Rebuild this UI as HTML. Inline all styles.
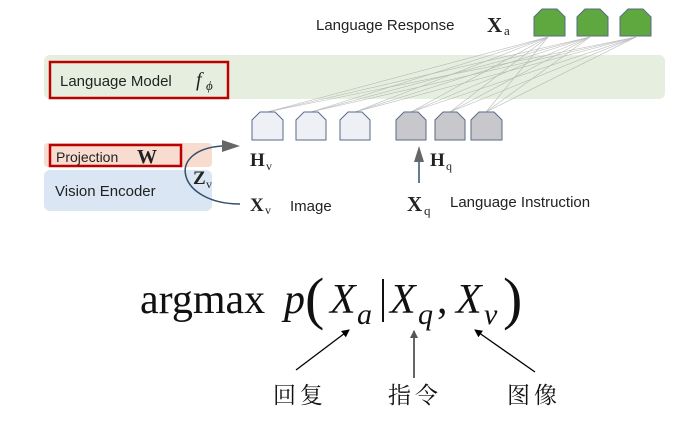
<!DOCTYPE html>
<html><head><meta charset="utf-8"><style>
html,body{margin:0;padding:0;background:#fff;width:678px;height:433px;overflow:hidden}
svg text{font-family:"Liberation Sans","DejaVu Sans",sans-serif}
.s{font-family:"Liberation Serif","DejaVu Serif",serif}
.c{font-family:"Liberation Serif","Noto Serif CJK SC","Noto Sans CJK SC",serif}
</style></head><body>
<svg width="678" height="433" viewBox="0 0 678 433" xmlns="http://www.w3.org/2000/svg">
<defs>
<marker id="ah" markerWidth="8" markerHeight="8" refX="7" refY="4" orient="auto" markerUnits="userSpaceOnUse"><path d="M0,0 L8,4 L0,8 Z" fill="#000"/></marker>
<marker id="ag" markerWidth="8" markerHeight="8" refX="7" refY="4" orient="auto" markerUnits="userSpaceOnUse"><path d="M0,0 L8,4 L0,8 Z" fill="#555"/></marker>
</defs>
<rect x="44" y="55" width="621" height="44" rx="6" fill="#e6efdf"/>
<rect x="50" y="62" width="178" height="36" fill="none" stroke="#b00" stroke-width="2.5"/>
<text x="60" y="86" font-size="15" fill="#222">Language Model</text>
<text x="196" y="86" font-size="20" class="s" font-style="italic" fill="#222">f</text>
<text x="206" y="90" font-size="13" class="s" font-style="italic" fill="#222">ϕ</text>
<rect x="44" y="143" width="168" height="24" rx="4" fill="#f7dccf"/>
<rect x="44" y="170" width="168" height="41" rx="6" fill="#dae6f3"/>
<rect x="50" y="145" width="131" height="21" fill="none" stroke="#b00" stroke-width="2.5"/>
<text x="56" y="162" font-size="14" fill="#222">Projection</text>
<text x="137" y="163" font-size="20" font-weight="bold" class="s" fill="#222">W</text>
<text x="55" y="196" font-size="15" fill="#222">Vision Encoder</text>
<path d="M240,204 C178,204 164,150 222,146" fill="none" stroke="#34506e" stroke-width="1.5"/>
<path d="M222,140 L240,146 L222,152 Z" fill="#666"/>
<text x="193" y="184" font-size="19" font-weight="bold" class="s" fill="#222">Z</text>
<text x="206" y="188" font-size="12" class="s" fill="#222">v</text>
<text x="250" y="166" font-size="19" font-weight="bold" class="s" fill="#222">H</text>
<text x="266" y="170" font-size="12" class="s" fill="#222">v</text>
<text x="250" y="211" font-size="19" font-weight="bold" class="s" fill="#222">X</text>
<text x="265" y="214" font-size="12" class="s" fill="#222">v</text>
<text x="290" y="211" font-size="15" fill="#222">Image</text>
<g stroke="#aaa" stroke-width="0.6" opacity="0.8">
<line x1="267" y1="112" x2="548" y2="37"/><line x1="267" y1="112" x2="590" y2="37"/><line x1="267" y1="112" x2="636" y2="37"/>
<line x1="311" y1="112" x2="548" y2="37"/><line x1="311" y1="112" x2="590" y2="37"/><line x1="311" y1="112" x2="636" y2="37"/>
<line x1="355" y1="112" x2="548" y2="37"/><line x1="355" y1="112" x2="590" y2="37"/><line x1="355" y1="112" x2="636" y2="37"/>
<line x1="411" y1="112" x2="548" y2="37"/><line x1="411" y1="112" x2="590" y2="37"/><line x1="411" y1="112" x2="636" y2="37"/>
<line x1="450" y1="112" x2="548" y2="37"/><line x1="450" y1="112" x2="590" y2="37"/><line x1="450" y1="112" x2="636" y2="37"/>
<line x1="486" y1="112" x2="548" y2="37"/><line x1="486" y1="112" x2="590" y2="37"/><line x1="486" y1="112" x2="636" y2="37"/>
</g>
<g stroke="#5a6a8a" stroke-width="1">
<path d="M252,140 L252,120 L260,112 L275,112 L283,120 L283,140 Z" fill="#eef0f5"/>
<path d="M296,140 L296,120 L304,112 L318,112 L326,120 L326,140 Z" fill="#eef0f5"/>
<path d="M340,140 L340,120 L348,112 L362,112 L370,120 L370,140 Z" fill="#eef0f5"/>
<path d="M396,140 L396,120 L404,112 L418,112 L426,120 L426,140 Z" fill="#c8c8cc"/>
<path d="M435,140 L435,120 L443,112 L457,112 L465,120 L465,140 Z" fill="#c8c8cc"/>
<path d="M471,140 L471,120 L479,112 L494,112 L502,120 L502,140 Z" fill="#c8c8cc"/>
<path d="M534,36 L534,17 L542,9 L557,9 L565,17 L565,36 Z" fill="#5fa83f"/>
<path d="M577,36 L577,17 L585,9 L600,9 L608,17 L608,36 Z" fill="#5fa83f"/>
<path d="M620,36 L620,17 L628,9 L643,9 L651,17 L651,36 Z" fill="#5fa83f"/>
</g>
<line x1="419" y1="183" x2="419" y2="160" stroke="#34506e" stroke-width="1.5"/>
<path d="M414,162 L419,146 L424,162 Z" fill="#666"/>
<text x="430" y="166" font-size="19" font-weight="bold" class="s" fill="#222">H</text>
<text x="446" y="170" font-size="12" class="s" fill="#222">q</text>
<text x="407" y="211" font-size="21" font-weight="bold" class="s" fill="#222">X</text>
<text x="424" y="215" font-size="13" class="s" fill="#222">q</text>
<text x="450" y="207" font-size="15" fill="#222">Language Instruction</text>
<text x="316" y="30" font-size="15" fill="#222">Language Response</text>
<text x="487" y="32" font-size="21" font-weight="bold" class="s" fill="#222">X</text>
<text x="504" y="35" font-size="13" class="s" fill="#222">a</text>
<text x="140" y="313" font-size="42" class="s" fill="#111">argmax</text>
<text x="284" y="313" font-size="42" class="s" font-style="italic" fill="#111">p</text>
<text x="305" y="318" font-size="58" class="s" fill="#111">(</text>
<text x="330" y="313" font-size="42" class="s" font-style="italic" fill="#111">X</text>
<text x="357" y="324" font-size="30" class="s" font-style="italic" fill="#111">a</text>
<line x1="383" y1="279" x2="383" y2="322" stroke="#111" stroke-width="2"/>
<text x="390" y="313" font-size="42" class="s" font-style="italic" fill="#111">X</text>
<text x="418" y="324" font-size="30" class="s" font-style="italic" fill="#111">q</text>
<text x="437" y="313" font-size="42" class="s" fill="#111">,</text>
<text x="456" y="313" font-size="42" class="s" font-style="italic" fill="#111">X</text>
<text x="484" y="324" font-size="30" class="s" font-style="italic" fill="#111">v</text>
<text x="503" y="318" font-size="58" class="s" fill="#111">)</text>
<line x1="296" y1="370" x2="349" y2="330" stroke="#000" stroke-width="1.3" marker-end="url(#ah)"/>
<line x1="414" y1="378" x2="414" y2="331" stroke="#555" stroke-width="1.8" marker-end="url(#ag)"/>
<line x1="535" y1="372" x2="475" y2="330" stroke="#000" stroke-width="1.3" marker-end="url(#ah)"/>
<text x="273" y="403" font-size="23" class="c" fill="#111" letter-spacing="4">回复</text>
<text x="388" y="403" font-size="23" class="c" fill="#111" letter-spacing="4">指令</text>
<text x="507" y="403" font-size="23" class="c" fill="#111" letter-spacing="4">图像</text>
</svg>
</body></html>
